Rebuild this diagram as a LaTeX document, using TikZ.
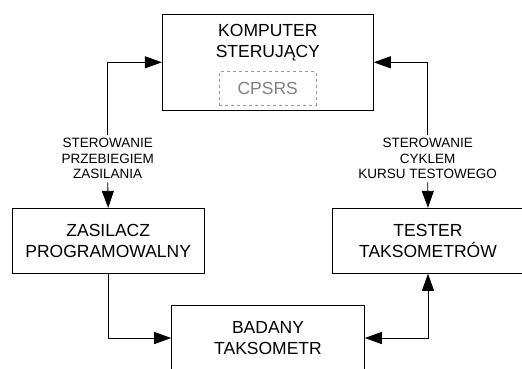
\documentclass[tikz,border=0pt]{standalone}
\usepackage{fontspec}
\setmainfont{Liberation Sans}
\usetikzlibrary{arrows.meta}

\tikzset{
  blok/.style={draw, line width=0.9pt, minimum width=192pt, minimum height=65pt, inner sep=0pt},
  napis/.style={align=center, font=\fontsize{17.5}{21}\selectfont},
  opis/.style={align=center, fill=white, inner sep=3pt, font=\fontsize{13.5}{15.8}\selectfont},
  strz/.style={line width=0.9pt, -{Triangle[length=17pt, width=12pt]}},
}

\begin{document}
\begin{tikzpicture}[x=1pt, y=-1pt]
			\useasboundingbox (0,0) rectangle (522,368);
			% Bloki
			\node[blok, minimum width=211pt, minimum height=96.7pt] (komp) at (267.8,62.3) {};
			\node[napis, anchor=north] (kompTxt) at (267.8,21) {KOMPUTER\\STERUJĄCY};
			\node[draw=gray!80, dashed, line width=0.8pt, text=gray, minimum width=96.7pt, minimum height=33.3pt,
			      font=\fontsize{17.5}{21}\selectfont] (cpsrs) at (267.7,88.3) {CPSRS};
			\node[blok, napis] (zas) at (108.2,240.8) {ZASILACZ\\PROGRAMOWALNY};
			\node[blok, napis] (test) at (428,240.8) {TESTER\\TAKSOMETRÓW};
			\node[blok, napis, minimum width=192.7pt, minimum height=66pt] (bad) at (268,338) {BADANY\\TAKSOMETR};
			% Opisy
			\node[opis] (opisL) at (107.7,158.5) {STEROWANIE\\PRZEBIEGIEM\\ZASILANIA};
			\node[opis] (opisP) at (427.7,158.5) {STEROWANIE\\CYKLEM\\KURSU TESTOWEGO};
			% Polaczenia
			\draw[strz] (opisL.north) |- (komp.west);
			\draw[strz] (opisL.south) -- (zas.north);
			\draw[strz] (opisP.north) |- (komp.east);
			\draw[strz] (opisP.south) -- (test.north);
			\draw[strz] (zas.south) |- (bad.west);
			\draw[strz, {Triangle[length=17pt, width=12pt]}-{Triangle[length=17pt, width=12pt]}] (bad.east) -| (test.south);
		\end{tikzpicture}
\end{document}
